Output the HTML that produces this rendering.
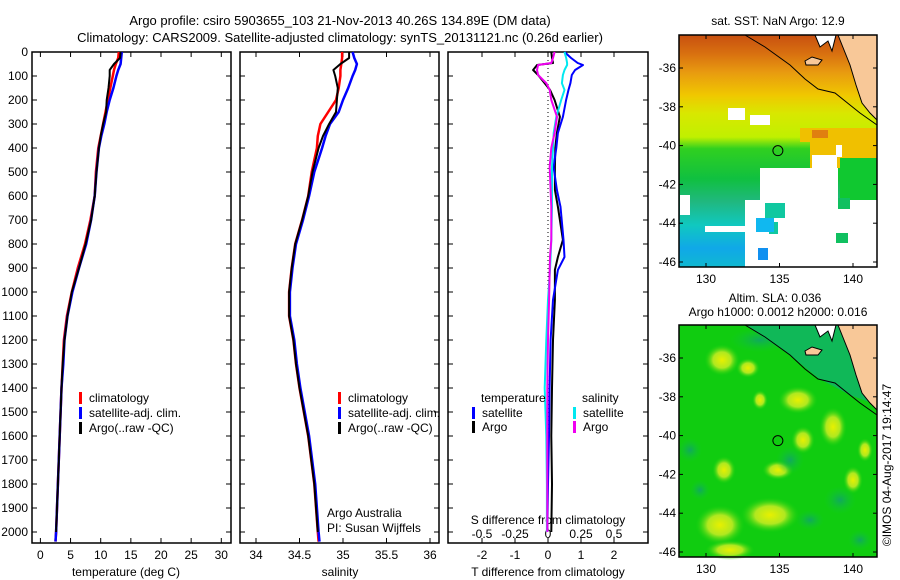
<!DOCTYPE html>
<html><head><meta charset="utf-8"><style>
body{margin:0;background:#fff;}
svg{display:block;font-family:"Liberation Sans",sans-serif;}
</style></head><body>
<svg id="c" width="900" height="580" viewBox="0 0 900 580" xmlns="http://www.w3.org/2000/svg">
<defs>
<linearGradient id="sstg" x1="0" y1="0" x2="0" y2="1">
<stop offset="0" stop-color="#c85010"/><stop offset="0.08" stop-color="#d87010"/><stop offset="0.16" stop-color="#e89a10"/>
<stop offset="0.26" stop-color="#f0c800"/><stop offset="0.34" stop-color="#d8e800"/><stop offset="0.44" stop-color="#c0f000"/>
<stop offset="0.49" stop-color="#30d020"/><stop offset="0.62" stop-color="#10c040"/><stop offset="0.72" stop-color="#20b880"/>
<stop offset="0.82" stop-color="#10c8c0"/><stop offset="0.92" stop-color="#10a8e8"/><stop offset="1" stop-color="#10b8d0"/>
</linearGradient>
<radialGradient id="yb"><stop offset="0" stop-color="#e8f000"/><stop offset="0.5" stop-color="#b0e820"/><stop offset="1" stop-color="#10d010" stop-opacity="0"/></radialGradient>
<radialGradient id="db"><stop offset="0" stop-color="#10a860"/><stop offset="1" stop-color="#10c830" stop-opacity="0"/></radialGradient>
</defs>
</svg>
<script>
// ---------- data ----------
const profileDepth = [0,25,50,75,100,150,200,250,300,350,400,500,600,700,800,900,1000,1100,1200,1300,1400,1600,1800,2000,2040];
const tempClim = [13.0,12.9,12.5,12.2,12.0,11.6,11.2,10.8,10.4,10.0,9.6,9.2,9.0,8.3,7.4,6.2,5.2,4.4,3.9,3.7,3.5,3.2,2.9,2.6,2.5];
const tempSat  = [13.5,13.4,13.3,12.9,12.6,12.1,11.5,11.0,10.6,10.1,9.7,9.3,9.0,8.4,7.6,6.4,5.3,4.5,4.0,3.8,3.5,3.2,2.9,2.6,2.5];
const tempArgo = [13.3,13.2,12.2,11.5,11.5,11.3,11.0,10.9,10.4,10.0,9.7,9.3,9.0,8.4,7.5,6.4,5.2,4.5,4.0,3.7,3.5,3.2,2.9,2.6];
const salClim = [34.99,34.99,34.98,34.97,34.97,34.95,34.92,34.83,34.74,34.71,34.70,34.64,34.60,34.53,34.45,34.41,34.38,34.38,34.43,34.46,34.50,34.60,34.67,34.71,34.72];
const salSat  = [35.11,35.13,35.16,35.14,35.11,35.06,35.00,34.95,34.85,34.80,34.76,34.67,34.61,34.54,34.46,34.42,34.39,34.39,34.44,34.47,34.51,34.61,34.68,34.72,34.73];
const salArgo = [35.07,35.07,34.97,34.89,34.91,34.94,34.93,34.92,34.84,34.77,34.72,34.65,34.60,34.53,34.45,34.41,34.38,34.38,34.43,34.46,34.50,34.60,34.67,34.71];
const diffDepth = [0,25,46,54,75,96,130,158,200,270,337,400,479,575,645,783,854,908,1033,1200,1400,1600,1800,2000];
const tDiffArgo = [0.1,0.12,0.15,-0.33,-0.45,-0.3,-0.1,0.06,0.2,0.36,0.27,0.22,0.21,0.21,0.3,0.45,0.3,0.21,0.21,0.15,0.12,0.1,0.12,0.1];
const tDiffSat  = [0.5,0.7,0.9,1.06,0.82,0.72,0.68,0.62,0.55,0.45,0.3,0.25,0.17,0.27,0.38,0.47,0.5,0.3,0.15,0.08,0.05,0.03,0.0,-0.02];
const sDiffArgo = [0.05,0.038,0.025,-0.075,-0.083,-0.075,-0.013,0.013,0.025,0.068,0.05,0.025,0.013,0.02,0.025,0.025,0.015,0.013,0.008,0,-0.005,-0.005,-0.005,-0.005];
const sDiffSat  = [0.125,0.138,0.145,0.145,0.125,0.113,0.105,0.125,0.1,0.063,0.043,0.038,0.03,0.03,0.03,0.025,0.02,0.015,0,-0.013,-0.025,-0.013,-0.008,-0.008];
const depthTicks = [0,100,200,300,400,500,600,700,800,900,1000,1100,1200,1300,1400,1500,1600,1700,1800,1900,2000];
const tempTicks = [0,5,10,15,20,25,30];
const salTicks = [34,34.5,35,35.5,36];
const tDiffTicks = [-2,-1,0,1,2];
const sDiffTicks = [-0.5,-0.25,0,0.25,0.5];
const latTicks = [-36,-38,-40,-42,-44,-46];
const lonTicks = [130,135,140];
const argoLon = 134.89, argoLat = -40.26;

// ---------- helpers ----------
const svg = document.getElementById('c');
const NS = 'http://www.w3.org/2000/svg';
function mk(tag, attrs, parent){const e=document.createElementNS(NS,tag);for(const k in attrs)e.setAttribute(k,attrs[k]);(parent||svg).appendChild(e);return e;}
function txt(x,y,s,anchor,size,parent){const t=mk('text',{x:x,y:y,'font-size':size||12,'text-anchor':anchor||'middle',fill:'#000'},parent);t.textContent=s;return t;}

const PT=52, PB=543;
const yD = d => PT + d*0.24;
const xT = v => 40.4 + v*6.03;
const xS = v => 256 + (v-34)*87;
const xDT = v => 548 + v*33;
const xDS = v => 548 + v*132;

function panel(x0,x1,name,xticks,xf,labels){
  const g=mk('g',{});
  
  
  mk('rect',{x:x0,y:PT,width:x1-x0,height:PB-PT,fill:'none',stroke:'#000','stroke-width':1.5},g);
  depthTicks.forEach(d=>{
    mk('line',{x1:x0,x2:x0+5,y1:yD(d),y2:yD(d),stroke:'#000'},g);
    mk('line',{x1:x1-5,x2:x1,y1:yD(d),y2:yD(d),stroke:'#000'},g);
  });
  xticks.forEach((v,i)=>{
    const x=xf(v);
    mk('line',{x1:x,x2:x,y1:PT,y2:PT+5,stroke:'#000'},g);
    mk('line',{x1:x,x2:x,y1:PB-5,y2:PB,stroke:'#000'},g);
    if(labels){const t=txt(x,559,labels[i],'middle',12,g);
      
      }
  });
  return g;
}
function line(xs,ds,xf,color,name,w){
  let p='';
  xs.forEach((v,i)=>{p+=(i?'L':'M')+xf(v).toFixed(1)+','+yD(ds[i]).toFixed(1);});
  const e=mk('path',{d:p,fill:'none',stroke:color,'stroke-width':w||2,'stroke-linejoin':'round'});
  
  
}
function legendRow(x,y,color,label,name){
  const b=mk('rect',{x:x,y:y-10,width:3,height:12,fill:color});
  
  
  const t=txt(x+10,y,label,'start',12);
  
  
}

// titles
let t=txt(340,25,'Argo profile: csiro 5903655_103 21-Nov-2013 40.26S 134.89E (DM data)','middle',13);


t=txt(340,42,'Climatology: CARS2009. Satellite-adjusted climatology: synTS_20131121.nc (0.26d earlier)','middle',13);



// depth tick labels
depthTicks.forEach(d=>{const e=txt(28,yD(d)+4,String(d),'end',12);
  
  });

// panel 1 temperature
panel(32,231,'temperature-panel',tempTicks,xT,tempTicks.map(String));
t=txt(126,576,'temperature (deg C)');


line(tempClim,profileDepth,xT,'#ff0000','temp-climatology-line',2.5);
line(tempSat,profileDepth,xT,'#0000ff','temp-satellite-line',2.5);
line(tempArgo,profileDepth,xT,'#000000','temp-argo-line',2);
legendRow(79,402,'#ff0000','climatology','legend-climatology');
legendRow(79,417,'#0000ff','satellite-adj. clim.','legend-satellite');
legendRow(79,432,'#000000','Argo(..raw -QC)','legend-argo');

// panel 2 salinity
panel(240,439,'salinity-panel',salTicks,xS,['34','34.5','35','35.5','36']);
t=txt(340,576,'salinity');


line(salClim,profileDepth,xS,'#ff0000','sal-climatology-line',2.5);
line(salSat,profileDepth,xS,'#0000ff','sal-satellite-line',2.5);
line(salArgo,profileDepth,xS,'#000000','sal-argo-line',2);
legendRow(338,402,'#ff0000','climatology','legend-sal-climatology');
legendRow(338,417,'#0000ff','satellite-adj. clim.','legend-sal-satellite');
legendRow(338,432,'#000000','Argo(..raw -QC)','legend-sal-argo');
t=txt(327,517,'Argo Australia','start',12);


t=txt(327,532,'PI: Susan Wijffels','start',12);



// panel 3 differences
panel(448,648,'difference-panel',tDiffTicks,xDT,['-2','-1','0','1','2']);
mk('line',{x1:xDT(0),x2:xDT(0),y1:yD(0),y2:yD(2000),stroke:'#000','stroke-dasharray':'1,3'});
sDiffTicks.forEach((v,i)=>{const e=txt(xDS(v),538,['-0.5','-0.25','0','0.25','0.5'][i],'middle',12);
  
  });
t=txt(548,524,'S difference from climatology');


t=txt(548,576,'T difference from climatology');


line(tDiffArgo,diffDepth,xDT,'#000000','t-diff-argo-line',2);
line(tDiffSat,diffDepth,xDT,'#0000ff','t-diff-satellite-line',2);
line(sDiffSat,diffDepth,xDS,'#00e8f0','s-diff-satellite-line',2);
line(sDiffArgo,diffDepth,xDS,'#f000f0','s-diff-argo-line',2);
t=txt(481,402,'temperature','start',12);


t=txt(582,402,'salinity','start',12);


legendRow(472,417,'#0000ff','satellite','legend-t-satellite');
legendRow(472,431,'#000000','Argo','legend-t-argo');
legendRow(573,417,'#00e8f0','satellite','legend-s-satellite');
legendRow(573,431,'#f000f0','Argo','legend-s-argo');

// ---------- maps ----------
const MX0=679, MX1=877;
const mxf = lon => 706 + (lon-130)*14.7;
function mapFrame(top,name){
  const bottom=top+232;
  const y36=top+33;
  const myf = lat => y36 + (-36-lat)*19.4;
  return {top,bottom,myf};
}
function mapAxes(m){
  mk('rect',{x:MX0,y:m.top,width:MX1-MX0,height:m.bottom-m.top,fill:'none',stroke:'#000','stroke-width':1.5});
  latTicks.forEach(l=>{const y=m.myf(l);
    mk('line',{x1:MX0,x2:MX0+4,y1:y,y2:y,stroke:'#000'});
    mk('line',{x1:MX1-4,x2:MX1,y1:y,y2:y,stroke:'#000'});
    const e=txt(676,y+4,String(l),'end',12);
    
    });
  lonTicks.forEach(l=>{const x=mxf(l);
    mk('line',{x1:x,x2:x,y1:m.top,y2:m.top+4,stroke:'#000'});
    mk('line',{x1:x,x2:x,y1:m.bottom-4,y2:m.bottom,stroke:'#000'});
    const e=txt(x,m.bottom+16,String(l),'middle',12);
    
    });
  const c=mk('circle',{cx:mxf(argoLon),cy:m.myf(argoLat),r:5,fill:'none',stroke:'#000'});
  
  
}
function land(top){
  const o=top;
  mk('path',{d:`M838,${o} L842,${o+10} L850,${o+30} L856,${o+50} L862,${o+68} L870,${o+78} L877,${o+85} L877,${o} Z`,fill:'#f8c898',stroke:'#000','stroke-width':1});
  mk('path',{d:`M815,${o} L820,${o+12} L828,${o+6} L832,${o+16} L836,${o} Z`,fill:'#fff',stroke:'#000','stroke-width':1});
  mk('path',{d:`M805,${o+26} L812,${o+22} L822,${o+25} L818,${o+30} L806,${o+30} Z`,fill:'#f8c898',stroke:'#000','stroke-width':1});
  mk('path',{d:`M745,${o} L765,${o+12} L790,${o+30} L805,${o+44} L818,${o+54} L835,${o+58} L850,${o+70} L860,${o+78} L877,${o+90}`,fill:'none',stroke:'#000','stroke-width':1});
}

// SST map
const m1=mapFrame(35);
const sstg=mk('g',{});


mk('rect',{x:MX0,y:35,width:MX1-MX0,height:232,fill:'url(#sstg)'},sstg);
[[800,128,77,14],[810,142,67,26]].forEach(r=>mk('rect',{x:r[0],y:r[1],width:r[2],height:r[3],fill:'#f0c000'},sstg));
mk('rect',{x:812,y:130,width:16,height:8,fill:'#e08010'},sstg);
[[840,158,37,57],[837,170,10,10]].forEach(r=>mk('rect',{x:r[0],y:r[1],width:r[2],height:r[3],fill:'#10c830'},sstg));
const whites=[[728,108,17,12],[750,115,20,10],[745,200,132,67],[760,168,78,32],[812,155,25,13],[836,145,6,12],[680,195,10,20],[705,226,40,6]];
whites.forEach(r=>mk('rect',{x:r[0],y:r[1],width:r[2],height:r[3],fill:'#fff'},sstg));
[[838,198,12,11],[836,233,12,10]].forEach(r=>mk('rect',{x:r[0],y:r[1],width:r[2],height:r[3],fill:'#10c060'},sstg));
[[765,203,20,15],[769,222,9,12]].forEach(r=>mk('rect',{x:r[0],y:r[1],width:r[2],height:r[3],fill:'#10c8a0'},sstg));
[[758,248,10,12],[760,252,0,0]].forEach(r=>mk('rect',{x:r[0],y:r[1],width:r[2],height:r[3],fill:'#1090f0'},sstg));
mk('rect',{x:756,y:218,width:18,height:14,fill:'#10b8f0'},sstg);
land(35);
mapAxes(m1);
t=txt(778,25,'sat. SST: NaN Argo: 12.9');



// SLA map
const m2=mapFrame(325);
const slag=mk('g',{});


mk('rect',{x:MX0,y:325,width:MX1-MX0,height:232,fill:'#10cc10'},slag);
[[722,360,18,16],[748,368,12,10],[803,440,12,14],[798,400,20,14],[833,427,14,20],[724,470,12,14],[778,470,16,10],[770,515,30,18],[720,525,25,20],[730,550,25,10],[853,480,10,14],[865,450,8,12],[760,400,8,10]].forEach(b=>mk('ellipse',{cx:b[0],cy:b[1],rx:b[2],ry:b[3],fill:'url(#yb)'},slag));
[[690,450,12,12],[790,460,14,14],[840,500,16,14],[700,490,10,10],[810,520,14,10],[860,540,12,10],[760,340,30,12]].forEach(b=>mk('ellipse',{cx:b[0],cy:b[1],rx:b[2],ry:b[3],fill:'url(#db)'},slag));
mk('path',{d:'M745,325 L790,355 L818,378 L850,395 L877,405 L877,325 Z',fill:'#10b858'},slag);
land(325);
mapAxes(m2);
t=txt(775,302,'Altim. SLA: 0.036');


t=txt(778,316,'Argo h1000: 0.0012 h2000: 0.016');


t=txt(0,0,'©IMOS 04-Aug-2017 19:14:47','middle',12);
t.setAttribute('transform','translate(891,465) rotate(-90)');


</script>
</body></html>
